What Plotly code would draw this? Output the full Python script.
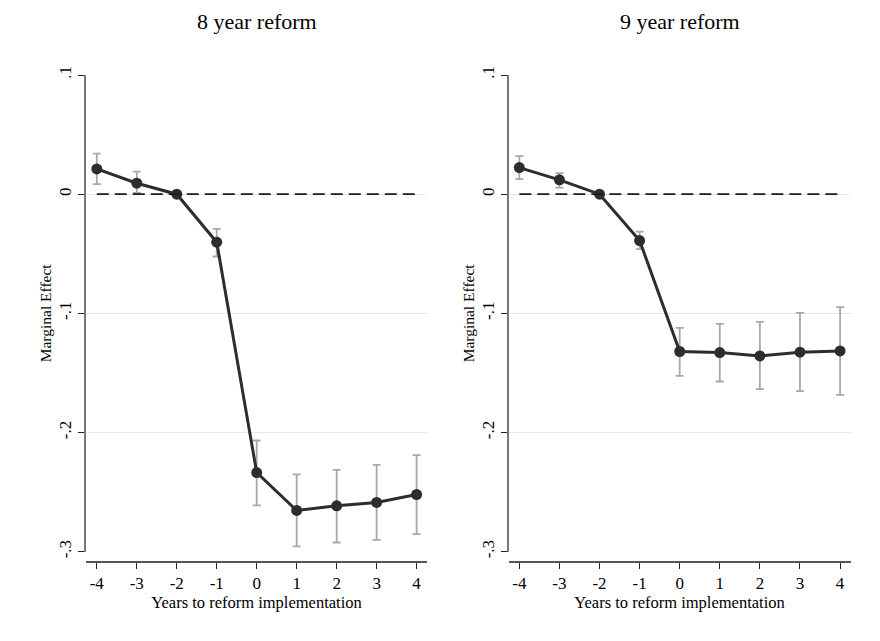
import plotly.graph_objects as go

years = [-4, -3, -2, -1, 0, 1, 2, 3, 4]

# 8 year reform
eff8 = [0.0212, 0.0092, 0.0, -0.0403, -0.2336, -0.2654, -0.2615, -0.2587, -0.2520]
hi8 = [0.0340, 0.0190, 0.0, -0.0291, -0.2067, -0.2352, -0.2313, -0.2271, -0.2190]
lo8 = [0.0084, 0.0010, 0.0, -0.0523, -0.2612, -0.2956, -0.2923, -0.2900, -0.2852]

# 9 year reform
eff9 = [0.0223, 0.0120, 0.0, -0.0389, -0.1320, -0.1329, -0.1357, -0.1326, -0.1315]
hi9 = [0.0320, 0.0176, 0.0, -0.0314, -0.1122, -0.1088, -0.1071, -0.0996, -0.0948]
lo9 = [0.0126, 0.0055, 0.0, -0.0461, -0.1524, -0.1572, -0.1636, -0.1653, -0.1684]

titles = ["8 year reform", "9 year reform"]
ytickvals = [0.1, 0.0, -0.1, -0.2, -0.3]
yticktext = [".1", "0", "-.1", "-.2", "-.3"]
xticktext = ["-4", "-3", "-2", "-1", "0", "1", "2", "3", "4"]

OFF = 8  # page body margin
W, H = 880 - OFF, 641 - OFF
FONT = "Liberation Serif"

fig = go.Figure()

panels = [(eff8, hi8, lo8, "x", "y"), (eff9, hi9, lo9, "x2", "y2")]
for eff, hi, lo, xa, ya in panels:
    plus = [h - e for h, e in zip(hi, eff)]
    minus = [e - l for e, l in zip(eff, lo)]
    fig.add_trace(go.Scatter(
        x=years, y=eff, xaxis=xa, yaxis=ya, mode="markers",
        marker=dict(size=0.1, color="rgba(0,0,0,0)"),
        error_y=dict(type="data", array=plus, arrayminus=minus,
                     color="#a8a8a8", thickness=1.8, width=4),
        showlegend=False, hoverinfo="skip"))
    fig.add_shape(type="line", xref=xa, yref=ya, x0=years[0], x1=years[-1],
                  y0=0, y1=0, line=dict(color="#1a1a1a", width=1.8, dash="12px,6px"))
    fig.add_trace(go.Scatter(
        x=years, y=eff, xaxis=xa, yaxis=ya, mode="lines+markers",
        line=dict(color="#2d2d2d", width=3),
        marker=dict(size=11, color="#2d2d2d"),
        showlegend=False))

ydom = [1 - (551.7 - OFF) / H, 1 - (75 - OFF) / H]
xdoms = [[(86 - OFF) / W, (427 - OFF) / W], [(508.5 - OFF) / W, (850.5 - OFF) / W]]
xpos = 1 - (562 - OFF) / H
xrange_ = [-4.27, 4.26]

layout = dict(
    width=W, height=H, paper_bgcolor="white", plot_bgcolor="white",
    margin=dict(l=0, r=0, t=0, b=0, autoexpand=False),
    font=dict(family=FONT, color="black"),
    showlegend=False,
)
for i, (xa, ya) in enumerate([("xaxis", "yaxis"), ("xaxis2", "yaxis2")]):
    xname = "x" if i == 0 else "x2"
    layout[xa] = dict(
        domain=xdoms[i], anchor="free", position=xpos, range=xrange_,
        automargin=False,
        tickmode="array", tickvals=years, ticktext=xticktext,
        ticks="outside", ticklen=6, tickwidth=1.2, tickcolor="#222",
        showline=True, linecolor="#555", linewidth=1.5,
        showgrid=False, zeroline=False,
        tickfont=dict(family=FONT, size=17, color="black"),
        title=dict(text="Years to reform implementation",
                   font=dict(family=FONT, size=16.5, color="black"), standoff=0),
    )
    layout[ya] = dict(
        domain=ydom, anchor=xname, range=[-0.3, 0.1],
        automargin=False,
        tickmode="array", tickvals=ytickvals, ticktext=yticktext,
        ticks="outside", ticklen=6, tickwidth=1.2, tickcolor="#222",
        tickangle=-90,
        showline=True, linecolor="#777", linewidth=1.5,
        showgrid=True, gridcolor="#e8e8e8", gridwidth=1.2, zeroline=False,
        tickfont=dict(family=FONT, size=17, color="black"),
        title=dict(text="Marginal Effect",
                   font=dict(family=FONT, size=15.5, color="black"), standoff=1),
    )

fig.update_layout(**layout)

for i, t in enumerate(titles):
    cx = (xdoms[i][0] + xdoms[i][1]) / 2
    fig.add_annotation(text=t, x=cx, y=1 - (22 - OFF) / H, xref="paper", yref="paper",
                       showarrow=False, xanchor="center", yanchor="middle",
                       font=dict(family=FONT, size=22, color="black"))

fig.write_html("out.html")
